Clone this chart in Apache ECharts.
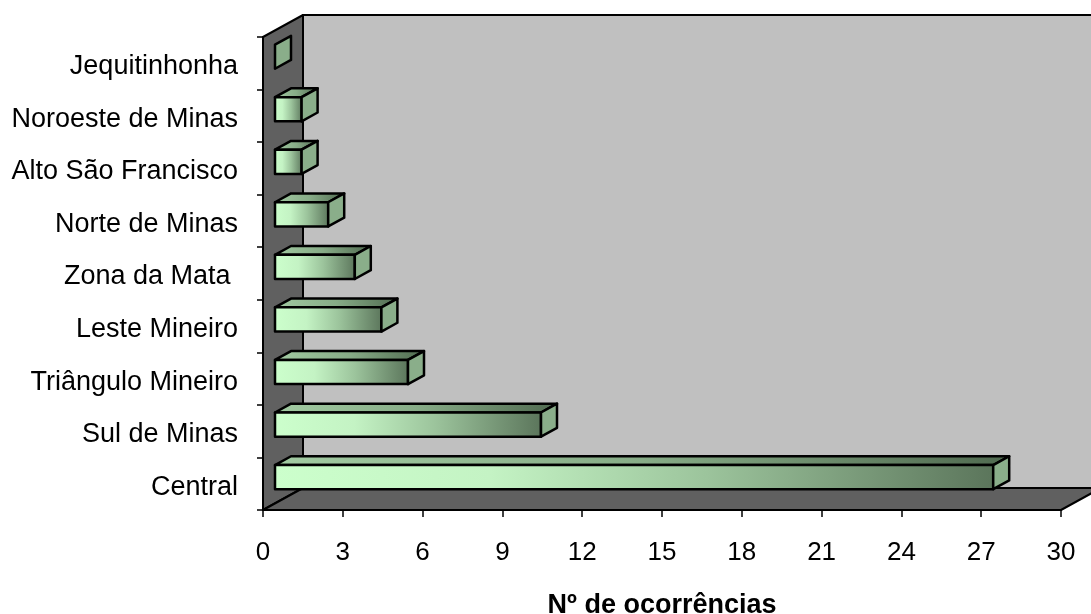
<!DOCTYPE html>
<html>
<head>
<meta charset="utf-8">
<script src="https://cdn.jsdelivr.net/npm/echarts@6/dist/echarts.min.js"></script>
<style>
  html, body { margin: 0; padding: 0; background: #fff; }
  #chart { width: 1091px; height: 614px; }
</style>
</head>
<body>
<div id="chart"></div>
<script>
// Regions of Minas Gerais, bottom to top on the category axis
const categories = [
  'Central', 'Sul de Minas', 'Triângulo Mineiro', 'Leste Mineiro',
  'Zona da Mata ', 'Norte de Minas', 'Alto São Francisco',
  'Noroeste de Minas', 'Jequitinhonha'
];
// Number of occurrences per region
const occurrences = [27, 10, 5, 4, 3, 2, 1, 1, 0];
// Value axis ticks
const xTicks = [0, 3, 6, 9, 12, 15, 18, 21, 24, 27, 30];
const axisTitle = 'Nº de ocorrências';

// Oblique 3D projection: offset of the back plane relative to the front plane
const DEPTH_X = 40;
const DEPTH_Y = -22;
// Bars occupy the middle of the depth (from 30% to 70%)
const BAR_DEPTH_START = 0.3;
const BAR_DEPTH_SIZE = 0.4;
const BAR_HEIGHT_FRAC = 0.46;

const FONT = '"Liberation Sans", Arial, sans-serif';
const EDGE = { stroke: '#000', lineWidth: 2, lineJoin: 'round' };
const BAR_EDGE = { stroke: '#000', lineWidth: 2.5, lineJoin: 'round' };

// Back wall, side wall and floor of the 3D box, built from the grid rectangle
function renderWalls(params, api) {
  const r = params.coordSys;
  const L = r.x, R = r.x + r.width, T = r.y, B = r.y + r.height;
  const dx = DEPTH_X, dy = DEPTH_Y;
  return {
    type: 'group',
    children: [
      { // back wall
        type: 'polygon',
        shape: { points: [[L + dx, T + dy], [R + dx, T + dy], [R + dx, B + dy], [L + dx, B + dy]] },
        style: Object.assign({ fill: '#C0C0C0' }, EDGE)
      },
      { // side wall
        type: 'polygon',
        shape: { points: [[L, T], [L + dx, T + dy], [L + dx, B + dy], [L, B]] },
        style: Object.assign({ fill: '#606060' }, EDGE)
      },
      { // floor
        type: 'polygon',
        shape: { points: [[L, B], [L + dx, B + dy], [R + dx, B + dy], [R, B]] },
        style: Object.assign({ fill: '#606060' }, EDGE)
      }
    ]
  };
}

// A 3D bar: front face, top face and end cap
function renderBar(params, api) {
  const v = api.value(0);
  const c = api.value(1);
  const start = api.coord([0, c]);
  const end = api.coord([v, c]);
  const band = api.size([0, 1])[1];
  const h = band * BAR_HEIGHT_FRAC;
  const ox = DEPTH_X * BAR_DEPTH_START, oy = DEPTH_Y * BAR_DEPTH_START;
  const dx = DEPTH_X * BAR_DEPTH_SIZE, dy = DEPTH_Y * BAR_DEPTH_SIZE;
  const x0 = start[0] + ox, x1 = end[0] + ox;
  const cy = start[1] + oy;
  const top = cy - h / 2, bot = cy + h / 2;
  const children = [];
  if (x1 - x0 > 1) {
    children.push({
      type: 'polygon',
      shape: { points: [[x0, top], [x0 + dx, top + dy], [x1 + dx, top + dy], [x1, top]] },
      style: Object.assign({
        fill: new echarts.graphic.LinearGradient(0, 0, 1, 0, [
          { offset: 0, color: '#A2CBA2' },
          { offset: 0.5, color: '#87AC87' },
          { offset: 1, color: '#506A50' }
        ])
      }, BAR_EDGE)
    });
    children.push({
      type: 'polygon',
      shape: { points: [[x0, top], [x1, top], [x1, bot], [x0, bot]] },
      style: Object.assign({
        fill: new echarts.graphic.LinearGradient(0, 0, 1, 0, [
          { offset: 0, color: '#CCFFCC' },
          { offset: 0.3, color: '#C4F3C4' },
          { offset: 0.6, color: '#9CC49C' },
          { offset: 1, color: '#5B755B' }
        ])
      }, BAR_EDGE)
    });
  }
  children.push({
    type: 'polygon',
    shape: { points: [[x1, top], [x1 + dx, top + dy], [x1 + dx, bot + dy], [x1, bot]] },
    style: Object.assign({ fill: '#8AAE8A' }, BAR_EDGE)
  });
  return { type: 'group', children: children };
}

const chart = echarts.init(document.getElementById('chart'), null, { renderer: 'canvas' });

chart.setOption({
  backgroundColor: '#fff',
  animation: false,
  grid: {
    left: 263, top: 37, width: 798, height: 473,
    containLabel: false,
    outerBoundsMode: 'none'
  },
  xAxis: {
    type: 'value',
    min: xTicks[0],
    max: xTicks[xTicks.length - 1],
    interval: xTicks[1] - xTicks[0],
    name: axisTitle,
    nameLocation: 'middle',
    nameGap: 82,
    nameTextStyle: { fontFamily: FONT, fontSize: 27, fontWeight: 'bold', color: '#000' },
    axisLine: { show: true, lineStyle: { color: '#000', width: 2 } },
    axisTick: { show: true, length: 7, lineStyle: { color: '#000', width: 1.5 } },
    axisLabel: { fontFamily: FONT, fontSize: 26, color: '#000', margin: 30 },
    splitLine: { show: false },
    z: 5
  },
  yAxis: {
    type: 'category',
    data: categories,
    axisLine: { show: true, lineStyle: { color: '#000', width: 2 } },
    axisTick: { show: true, length: 6, lineStyle: { color: '#000', width: 1.5 } },
    axisLabel: {
      margin: 25,
      formatter: (value) => '{c|' + value + '}',
      rich: {
        c: { fontFamily: FONT, fontSize: 27, color: '#000', padding: [7, 0, 0, 0] }
      }
    },
    splitLine: { show: false },
    z: 5
  },
  series: [
    {
      type: 'custom',
      name: 'walls',
      renderItem: renderWalls,
      data: [[0, 0]],
      encode: { x: 0, y: 1 },
      silent: true,
      clip: false,
      z: 1
    },
    {
      type: 'custom',
      name: 'ocorrências',
      renderItem: renderBar,
      data: occurrences.map((v, i) => [v, i]),
      encode: { x: 0, y: 1 },
      clip: false,
      z: 3
    }
  ]
});
</script>
</body>
</html>
